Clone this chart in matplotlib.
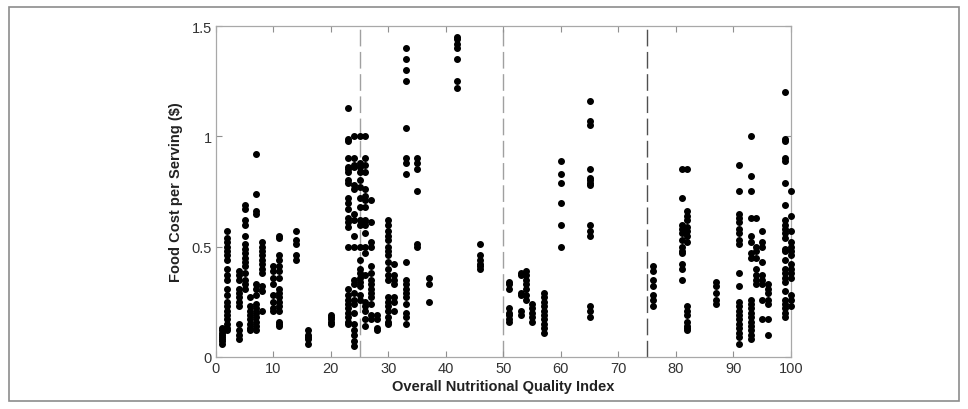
import matplotlib
matplotlib.use('Agg')
import matplotlib.pyplot as plt
from matplotlib.patches import Rectangle

# quality index columns and the food costs
index_cols = [1, 2, 4, 5, 6, 7, 8, 10, 11, 14, 16, 20, 23, 24, 25, 26, 27, 28, 30, 31,
              33, 35, 37, 42, 46, 51, 53, 54, 55, 57, 60, 65, 76, 81, 82, 87, 91, 93, 94,
              95, 96, 99, 100]

costs = [
    [0.06, 0.07, 0.08, 0.09, 0.10, 0.11, 0.12, 0.13],
    [0.57, 0.54, 0.52, 0.50, 0.48, 0.46, 0.44, 0.40, 0.37, 0.35, 0.31, 0.28, 0.25, 0.23, 0.21,
     0.19, 0.17, 0.15, 0.13, 0.12],
    [0.39, 0.37, 0.35, 0.31, 0.29, 0.27, 0.25, 0.23, 0.15, 0.12, 0.10, 0.08],
    [0.69, 0.67, 0.62, 0.60, 0.55, 0.51, 0.49, 0.47, 0.45, 0.43, 0.41, 0.38, 0.35, 0.33, 0.31],
    [0.27, 0.23, 0.21, 0.19, 0.17, 0.15, 0.13, 0.12],
    [0.92, 0.74, 0.66, 0.65, 0.33, 0.31, 0.28, 0.24, 0.22, 0.20, 0.18, 0.16, 0.14, 0.12],
    [0.52, 0.50, 0.48, 0.46, 0.44, 0.42, 0.40, 0.38, 0.32, 0.30, 0.21],
    [0.41, 0.39, 0.36, 0.33, 0.28, 0.25, 0.22, 0.21],
    [0.55, 0.54, 0.46, 0.44, 0.41, 0.39, 0.36, 0.31, 0.29, 0.27, 0.25, 0.23, 0.21, 0.16, 0.15,
     0.14],
    [0.57, 0.53, 0.51, 0.46, 0.44],
    [0.12, 0.10, 0.09, 0.08, 0.06],
    [0.19, 0.18, 0.17, 0.16, 0.15],
    [1.13, 0.99, 0.98, 0.90, 0.86, 0.85, 0.84, 0.80, 0.79, 0.72, 0.70, 0.67, 0.63, 0.61, 0.59,
     0.50, 0.31, 0.28, 0.26, 0.24, 0.22, 0.20, 0.18, 0.16, 0.15],
    [1.00, 0.90, 0.87, 0.86, 0.78, 0.76, 0.65, 0.62, 0.55, 0.50, 0.35, 0.33, 0.29, 0.26, 0.24,
     0.20, 0.15, 0.12, 0.10, 0.07, 0.05],
    [1.00, 0.88, 0.86, 0.84, 0.80, 0.77, 0.72, 0.68, 0.62, 0.60, 0.50, 0.44, 0.40, 0.38, 0.36,
     0.34, 0.32, 0.28, 0.26],
    [1.00, 0.90, 0.87, 0.84, 0.76, 0.73, 0.71, 0.68, 0.62, 0.60, 0.56, 0.50, 0.47, 0.37, 0.25,
     0.23, 0.21, 0.17, 0.14],
    [0.71, 0.61, 0.52, 0.50, 0.41, 0.38, 0.35, 0.33, 0.31, 0.29, 0.27, 0.24, 0.19, 0.17],
    [0.19, 0.17, 0.13, 0.12],
    [0.62, 0.60, 0.57, 0.55, 0.53, 0.50, 0.48, 0.46, 0.43, 0.40, 0.37, 0.35, 0.27, 0.25, 0.23,
     0.21, 0.18, 0.16, 0.15],
    [0.42, 0.37, 0.35, 0.33, 0.27, 0.25, 0.21],
    [1.40, 1.35, 1.30, 1.25, 1.04, 0.90, 0.88, 0.83, 0.43, 0.35, 0.33, 0.31, 0.29, 0.27, 0.24,
     0.20, 0.18, 0.15],
    [0.90, 0.88, 0.85, 0.75, 0.51, 0.50],
    [0.36, 0.33, 0.25],
    [1.45, 1.44, 1.42, 1.40, 1.35, 1.25, 1.22],
    [0.51, 0.46, 0.44, 0.42, 0.41, 0.40],
    [0.34, 0.33, 0.31, 0.22, 0.20, 0.19, 0.17, 0.16],
    [0.38, 0.37, 0.29, 0.28, 0.21, 0.19],
    [0.39, 0.37, 0.35, 0.33, 0.31, 0.28, 0.26],
    [0.24, 0.22, 0.20, 0.18, 0.16],
    [0.29, 0.27, 0.25, 0.23, 0.21, 0.19, 0.17, 0.15, 0.13, 0.11],
    [0.89, 0.83, 0.79, 0.70, 0.60, 0.50],
    [1.16, 1.07, 1.05, 0.85, 0.81, 0.80, 0.79, 0.78, 0.60, 0.57, 0.55, 0.23, 0.21, 0.18],
    [0.41, 0.39, 0.35, 0.32, 0.28, 0.26, 0.23],
    [0.85, 0.72, 0.60, 0.58, 0.56, 0.53, 0.50, 0.48, 0.47, 0.42, 0.40, 0.35],
    [0.85, 0.66, 0.64, 0.62, 0.59, 0.57, 0.55, 0.52, 0.23, 0.21, 0.19, 0.16, 0.14, 0.13, 0.12],
    [0.34, 0.32, 0.29, 0.26, 0.24],
    [0.87, 0.75, 0.65, 0.63, 0.61, 0.58, 0.56, 0.53, 0.51, 0.38, 0.32, 0.25, 0.23, 0.21, 0.19,
     0.17, 0.15, 0.13, 0.11, 0.09, 0.06],
    [1.00, 0.82, 0.75, 0.63, 0.55, 0.52, 0.47, 0.45, 0.26, 0.24, 0.22, 0.20, 0.18, 0.16, 0.14,
     0.12, 0.10, 0.08],
    [0.63, 0.50, 0.48, 0.45, 0.40, 0.37, 0.35, 0.33],
    [0.57, 0.52, 0.50, 0.43, 0.37, 0.35, 0.33, 0.26, 0.17],
    [0.33, 0.31, 0.29, 0.26, 0.24, 0.17, 0.10],
    [1.20, 0.99, 0.98, 0.90, 0.89, 0.79, 0.69, 0.62, 0.60, 0.58, 0.56, 0.54, 0.49, 0.48, 0.44,
     0.40, 0.38, 0.36, 0.34, 0.30, 0.26, 0.24, 0.22, 0.20, 0.18],
    [0.75, 0.64, 0.57, 0.52, 0.50, 0.48, 0.46, 0.42, 0.40, 0.38, 0.36, 0.28, 0.26, 0.23],
]

cutoffs = [25, 50, 75]
x_ticks = [0, 10, 20, 30, 40, 50, 60, 70, 80, 90, 100]
y_ticks = [0, 0.5, 1, 1.5]
y_ticklabels = ['0', '0.5', '1', '1.5']

sans = ['Liberation Sans', 'DejaVu Sans']

fig = plt.figure(figsize=(9.68, 4.10), dpi=100)
fig.patches.append(Rectangle((0.009, 0.02), 0.982, 0.96, transform=fig.transFigure,
                             fill=False, edgecolor='#8c8c8c', linewidth=1.2))
ax = fig.add_axes([0.223, 0.127, 0.594, 0.807])

xs = []
ys = []
for x, col in zip(index_cols, costs):
    for y in col:
        xs.append(x)
        ys.append(y)

for c, shade in zip(cutoffs, ['#a0a0a0', '#a0a0a0', '#505050']):
    ax.axvline(c, color=shade, linewidth=1.0, dashes=(12, 4), zorder=1)

ax.plot(xs, ys, 'o', color='black', markersize=4.0, clip_on=False, zorder=3)

ax.set_xlim(0, 100)
ax.set_ylim(0, 1.5)
ax.set_xticks(x_ticks)
ax.set_yticks(y_ticks)
ax.set_yticklabels(y_ticklabels)
for s in ax.spines.values():
    s.set_color('#a8a8a8')
    s.set_linewidth(0.9)
ax.tick_params(direction='in', length=4, width=0.8, color='#909090',
               top=True, right=True, labelsize=10.5, labelcolor='#333333', pad=3)
for lab in ax.get_xticklabels() + ax.get_yticklabels():
    lab.set_family(sans)

ax.set_xlabel('Overall Nutritional Quality Index', fontsize=10.5, fontweight='bold',
              family=sans, color='#222222', labelpad=3)
ax.set_ylabel('Food Cost per Serving ($)', fontsize=10.5, fontweight='bold',
              family=sans, color='#222222', labelpad=6)

plt.savefig('out.png', dpi=100)
